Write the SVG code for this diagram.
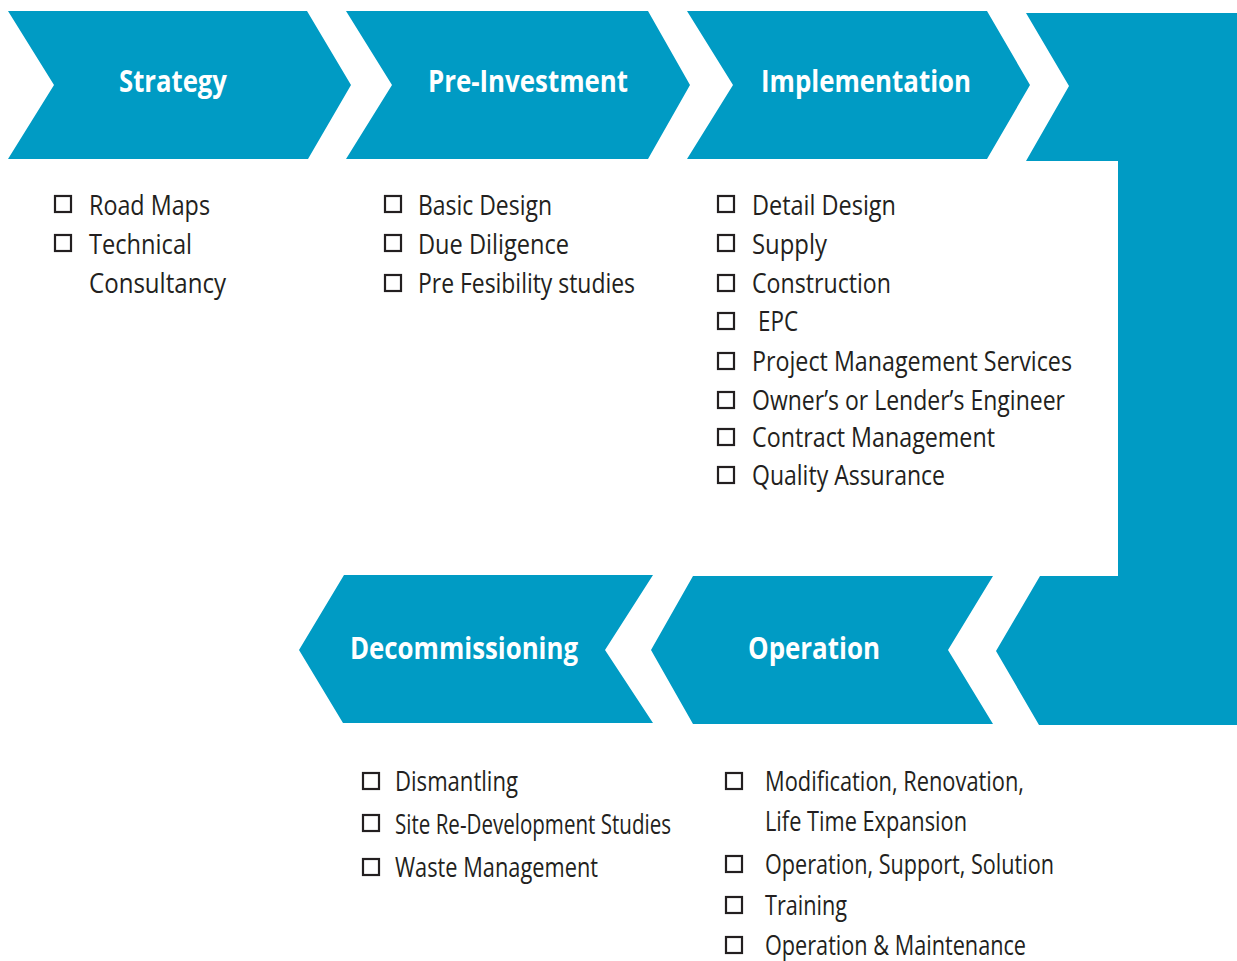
<svg xmlns="http://www.w3.org/2000/svg" width="1237" height="961" viewBox="0 0 1237 961">
<style>
.shape{fill:#009bc4}
.title{font-family:"Open Sans","Liberation Sans",sans-serif;font-weight:bold;font-size:31px;fill:#ffffff}
.item{font-family:"Open Sans","Liberation Sans",sans-serif;font-size:27px;fill:#231f20}
.box{fill:none;stroke:#231f20;stroke-width:2.2}
</style>
<rect width="1237" height="961" fill="#ffffff"/>
<g id="connectors">
<path class="shape" d="M1026,13 L1237,13 L1237,725 L1039,725 L996,651 L1040,576 L1118,576 L1118,161 L1026,161 L1069,86 Z"/>
</g>
<g id="strategy">
<path class="shape" d="M8,11 L307,11 L351,85 L308,159 L8,159 L54,85 Z"/>
<text class="title" x="119" y="92" textLength="108" lengthAdjust="spacingAndGlyphs">Strategy</text>
<rect class="box" x="55" y="196" width="16" height="16"/>
<rect class="box" x="55" y="235" width="16" height="16"/>
<text class="item" x="89" y="215" textLength="121" lengthAdjust="spacingAndGlyphs">Road Maps</text>
<text class="item" x="89" y="254" textLength="103" lengthAdjust="spacingAndGlyphs">Technical</text>
<text class="item" x="89" y="293" textLength="137" lengthAdjust="spacingAndGlyphs">Consultancy</text>
</g>
<g id="pre-investment">
<path class="shape" d="M346,11 L648,11 L690,85 L648,159 L346,159 L392,85 Z"/>
<text class="title" x="428" y="92" textLength="200" lengthAdjust="spacingAndGlyphs">Pre-Investment</text>
<rect class="box" x="385" y="196" width="16" height="16"/>
<rect class="box" x="385" y="235" width="16" height="16"/>
<rect class="box" x="385" y="275" width="16" height="16"/>
<text class="item" x="418" y="215" textLength="134" lengthAdjust="spacingAndGlyphs">Basic Design</text>
<text class="item" x="418" y="254" textLength="151" lengthAdjust="spacingAndGlyphs">Due Diligence</text>
<text class="item" x="418" y="293" textLength="217" lengthAdjust="spacingAndGlyphs">Pre Fesibility studies</text>
</g>
<g id="implementation">
<path class="shape" d="M687,11 L987,11 L1030,85 L987,159 L687,159 L733,85 Z"/>
<text class="title" x="761" y="92" textLength="210" lengthAdjust="spacingAndGlyphs">Implementation</text>
<rect class="box" x="718" y="196" width="16" height="16"/>
<rect class="box" x="718" y="235" width="16" height="16"/>
<rect class="box" x="718" y="275" width="16" height="16"/>
<rect class="box" x="718" y="313" width="16" height="16"/>
<rect class="box" x="718" y="353" width="16" height="16"/>
<rect class="box" x="718" y="392" width="16" height="16"/>
<rect class="box" x="718" y="429" width="16" height="16"/>
<rect class="box" x="718" y="467" width="16" height="16"/>
<text class="item" x="752" y="215" textLength="144" lengthAdjust="spacingAndGlyphs">Detail Design</text>
<text class="item" x="752" y="254" textLength="75" lengthAdjust="spacingAndGlyphs">Supply</text>
<text class="item" x="752" y="293" textLength="139" lengthAdjust="spacingAndGlyphs">Construction</text>
<text class="item" x="758" y="331" textLength="40" lengthAdjust="spacingAndGlyphs">EPC</text>
<text class="item" x="752" y="371" textLength="320" lengthAdjust="spacingAndGlyphs">Project Management Services</text>
<text class="item" x="752" y="410" textLength="313" lengthAdjust="spacingAndGlyphs">Owner’s or Lender’s Engineer</text>
<text class="item" x="752" y="447" textLength="243" lengthAdjust="spacingAndGlyphs">Contract Management</text>
<text class="item" x="752" y="485" textLength="193" lengthAdjust="spacingAndGlyphs">Quality Assurance</text>
</g>
<g id="operation">
<path class="shape" d="M693,576 L993,576 L948,650 L993,724 L693,724 L651,650 Z"/>
<text class="title" x="748" y="659" textLength="132" lengthAdjust="spacingAndGlyphs">Operation</text>
<rect class="box" x="726" y="773" width="16" height="16"/>
<rect class="box" x="726" y="856" width="16" height="16"/>
<rect class="box" x="726" y="897" width="16" height="16"/>
<rect class="box" x="726" y="937" width="16" height="16"/>
<text class="item" x="765" y="791" textLength="259" lengthAdjust="spacingAndGlyphs">Modification, Renovation,</text>
<text class="item" x="765" y="831" textLength="202" lengthAdjust="spacingAndGlyphs">Life Time Expansion</text>
<text class="item" x="765" y="874" textLength="289" lengthAdjust="spacingAndGlyphs">Operation, Support, Solution</text>
<text class="item" x="765" y="915" textLength="82" lengthAdjust="spacingAndGlyphs">Training</text>
<text class="item" x="765" y="955" textLength="261" lengthAdjust="spacingAndGlyphs">Operation &amp; Maintenance</text>
</g>
<g id="decommissioning">
<path class="shape" d="M344,575 L653,575 L605,650 L653,723 L343,723 L299,650 Z"/>
<text class="title" x="350" y="659" textLength="228" lengthAdjust="spacingAndGlyphs">Decommissioning</text>
<rect class="box" x="363" y="773" width="16" height="16"/>
<rect class="box" x="363" y="815" width="16" height="16"/>
<rect class="box" x="363" y="859" width="16" height="16"/>
<text class="item" x="395" y="791" textLength="123" lengthAdjust="spacingAndGlyphs">Dismantling</text>
<text class="item" x="395" y="834" textLength="276" lengthAdjust="spacingAndGlyphs">Site Re-Development Studies</text>
<text class="item" x="395" y="877" textLength="203" lengthAdjust="spacingAndGlyphs">Waste Management</text>
</g>
</svg>
